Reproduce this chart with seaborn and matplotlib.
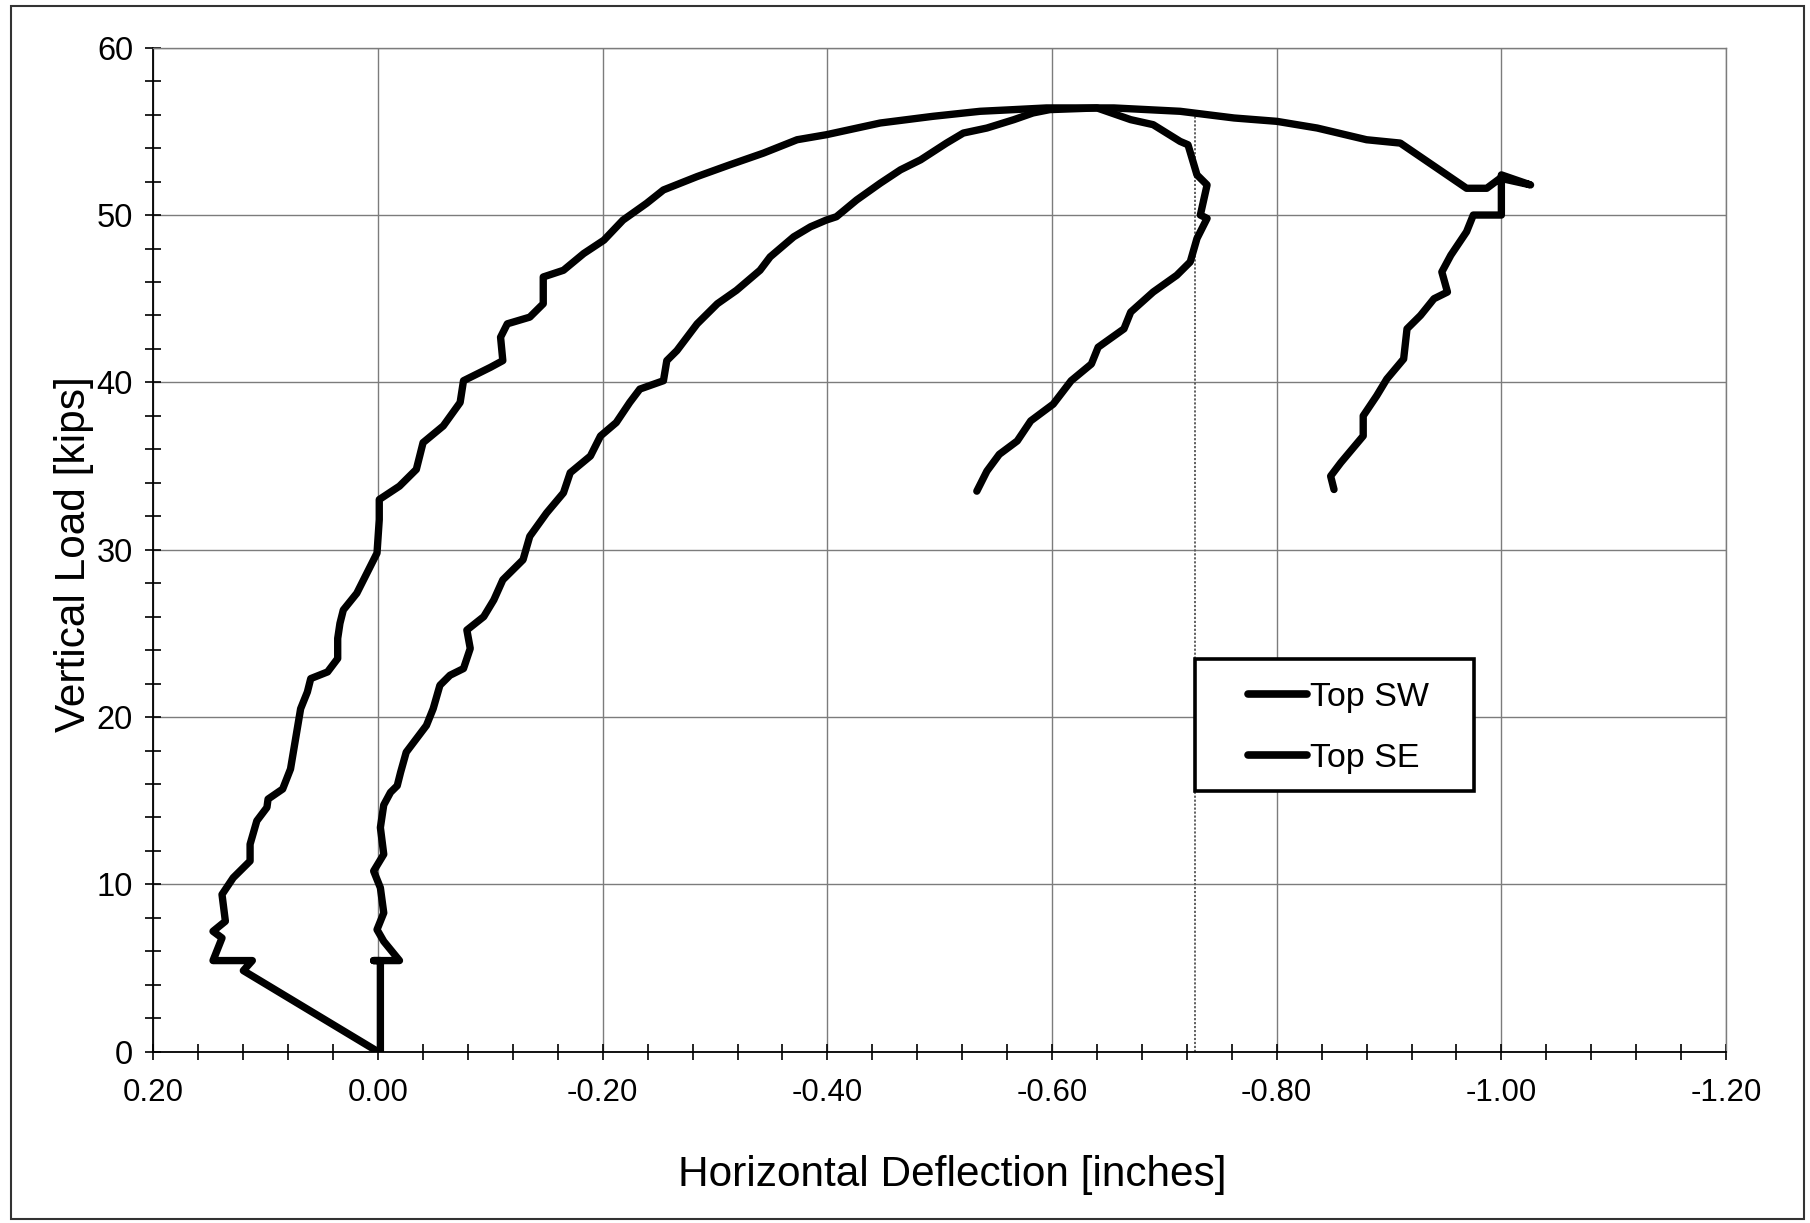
import numpy as np
import pandas as pd
import matplotlib
matplotlib.use("Agg")
import matplotlib.pyplot as plt
import seaborn as sns
from matplotlib.lines import Line2D
from matplotlib.patches import Rectangle
from matplotlib.ticker import MultipleLocator, FixedLocator, FixedFormatter

# ---------------- data ----------------
series_names = ["Top SW", "Top SE"]

sw_x = [0.000, 0.120, 0.112, 0.147, 0.139, 0.147, 0.136, 0.139, 0.129, 0.114,
        0.114, 0.108, 0.099, 0.098, 0.085, 0.078, 0.075, 0.072, 0.069, 0.063,
        0.060, 0.045, 0.036, 0.036, 0.034, 0.031, 0.019, 0.010, 0.001, -0.001,
        -0.001, -0.019, -0.034, -0.040, -0.058, -0.073, -0.076, -0.100, -0.111, -0.109,
        -0.115, -0.135, -0.147, -0.147, -0.165, -0.183, -0.201, -0.218, -0.239, -0.254,
        -0.284, -0.313, -0.343, -0.373, -0.399, -0.447, -0.494, -0.536, -0.566, -0.595,
        -0.655, -0.714, -0.762, -0.800, -0.836, -0.880, -0.910, -0.969, -0.987, -0.999,
        -1.026, -1.000, -1.000, -0.975, -0.969, -0.955, -0.947, -0.952, -0.940, -0.928,
        -0.916, -0.913, -0.898, -0.889, -0.877, -0.877, -0.857, -0.848, -0.851]
sw_y = [0.0, 4.85, 5.45, 5.45, 6.8, 7.2, 7.8, 9.4, 10.4, 11.4,
        12.4, 13.8, 14.6, 15.1, 15.7, 16.9, 18.1, 19.3, 20.5, 21.5,
        22.3, 22.7, 23.5, 24.7, 25.6, 26.4, 27.4, 28.6, 29.8, 31.8,
        33.0, 33.8, 34.8, 36.4, 37.4, 38.8, 40.1, 40.9, 41.3, 42.7,
        43.5, 43.9, 44.7, 46.3, 46.7, 47.7, 48.5, 49.7, 50.7, 51.5,
        52.3, 53.0, 53.7, 54.5, 54.8, 55.5, 55.9, 56.2, 56.3, 56.4,
        56.4, 56.2, 55.8, 55.6, 55.2, 54.5, 54.3, 51.6, 51.6, 52.2,
        51.8, 52.4, 50.0, 50.0, 49.0, 47.6, 46.6, 45.4, 45.0, 44.0,
        43.2, 41.4, 40.2, 39.2, 38.0, 36.8, 35.2, 34.4, 33.6]

se_x = [-0.002, -0.002, 0.004, -0.019, -0.005, 0.001, -0.005, -0.002, 0.004, -0.005,
        -0.002, -0.005, -0.011, -0.017, -0.020, -0.025, -0.034, -0.043, -0.049, -0.055,
        -0.064, -0.076, -0.082, -0.079, -0.094, -0.103, -0.111, -0.129, -0.135, -0.150,
        -0.165, -0.171, -0.189, -0.198, -0.212, -0.224, -0.233, -0.254, -0.257, -0.266,
        -0.284, -0.302, -0.319, -0.340, -0.349, -0.370, -0.385, -0.399, -0.408, -0.426,
        -0.447, -0.465, -0.483, -0.506, -0.521, -0.542, -0.566, -0.583, -0.598, -0.640,
        -0.670, -0.690, -0.714, -0.721, -0.729, -0.738, -0.732, -0.738, -0.729, -0.723,
        -0.711, -0.690, -0.670, -0.664, -0.641, -0.635, -0.617, -0.601, -0.581, -0.569,
        -0.553, -0.542, -0.533]
se_y = [0.0, 5.45, 5.45, 5.45, 6.6, 7.3, 8.3, 9.8, 10.8, 11.8,
        13.4, 14.75, 15.5, 15.9, 16.7, 17.9, 18.7, 19.5, 20.5, 21.9,
        22.5, 22.9, 24.1, 25.2, 26.0, 27.0, 28.2, 29.4, 30.8, 32.2,
        33.4, 34.6, 35.6, 36.8, 37.6, 38.8, 39.6, 40.1, 41.3, 41.9,
        43.5, 44.7, 45.5, 46.7, 47.5, 48.7, 49.3, 49.7, 49.9, 50.9,
        51.9, 52.7, 53.3, 54.3, 54.9, 55.2, 55.7, 56.1, 56.3, 56.4,
        55.7, 55.4, 54.4, 54.2, 52.4, 51.8, 50.0, 49.8, 48.6, 47.2,
        46.4, 45.4, 44.2, 43.2, 42.1, 41.1, 40.1, 38.7, 37.7, 36.5,
        35.7, 34.7, 33.5]

x_ticks = [0.20, 0.00, -0.20, -0.40, -0.60, -0.80, -1.00, -1.20]
x_tick_labels = ["0.20", "0.00", "-0.20", "-0.40", "-0.60", "-0.80", "-1.00", "-1.20"]
y_ticks = [0, 10, 20, 30, 40, 50, 60]
y_tick_labels = ["0", "10", "20", "30", "40", "50", "60"]

marker_line_x = [-0.727]
marker_line_y = [0.0, 56.2]

# ---------------- build table ----------------
df = pd.concat([
    pd.DataFrame({"x": sw_x, "y": sw_y, "series": series_names[0], "order": range(len(sw_x))}),
    pd.DataFrame({"x": se_x, "y": se_y, "series": series_names[1], "order": range(len(se_x))}),
], ignore_index=True)

sns.set_theme(style="white")
plt.rcParams["font.family"] = ["Liberation Sans", "DejaVu Sans"]
plt.rcParams["text.color"] = "black"
plt.rcParams["axes.labelcolor"] = "black"
plt.rcParams["xtick.color"] = "black"
plt.rcParams["ytick.color"] = "black"

fig = plt.figure(figsize=(18.10, 12.23), dpi=100)
fig.patch.set_facecolor("white")
ax = fig.add_axes([0.0848, 0.140, 0.8688, 0.821])

sns.lineplot(data=df, x="x", y="y", hue="series", estimator=None, sort=False,
             palette={series_names[0]: "black", series_names[1]: "black"},
             linewidth=5.3, legend=False, ax=ax,
             solid_capstyle="round", solid_joinstyle="round", zorder=3)

ax.vlines(marker_line_x, marker_line_y[0], marker_line_y[1], colors="#555555",
          linestyles=(0, (1.2, 1.0)), linewidth=1.3, zorder=2.5)

ax.set_xlim(x_ticks[0], x_ticks[-1])
ax.set_ylim(y_ticks[0], y_ticks[-1])
ax.xaxis.set_major_locator(FixedLocator(x_ticks))
ax.xaxis.set_major_formatter(FixedFormatter(x_tick_labels))
ax.yaxis.set_major_locator(FixedLocator(y_ticks))
ax.yaxis.set_major_formatter(FixedFormatter(y_tick_labels))
ax.xaxis.set_minor_locator(MultipleLocator(0.04))
ax.yaxis.set_minor_locator(MultipleLocator(2))

ax.grid(which="major", color="#7c7c7c", linewidth=1.0)
ax.set_axisbelow(True)

for side in ["left", "bottom"]:
    ax.spines[side].set_color("black")
    ax.spines[side].set_linewidth(1.3)
for side in ["top", "right"]:
    ax.spines[side].set_color("#7c7c7c")
    ax.spines[side].set_linewidth(1.0)

ax.tick_params(axis="both", which="both", direction="inout", color="black",
               labelcolor="black", length=11.5, width=1.2,
               left=True, bottom=True, top=False, right=False)
ax.tick_params(axis="x", which="major", labelsize=22.5, pad=13)
ax.tick_params(axis="y", which="major", labelsize=23.5, pad=9)

ax.set_xlabel("Horizontal Deflection [inches]", fontsize=30.5, color="black")
ax.set_ylabel("Vertical Load [kips]", fontsize=30.5, color="black")
ax.xaxis.set_label_coords(0.508, -0.103)
ax.yaxis.set_label_coords(-0.038, 0.496)

# legend with an opaque box
ax.add_patch(Rectangle((0.662, 0.260), 0.178, 0.131, transform=ax.transAxes,
                       facecolor="white", edgecolor="black", linewidth=2.6, zorder=4))
handles = [Line2D([], [], color="black", linewidth=5.5, solid_capstyle="round") for _ in series_names]
leg = ax.legend(handles, series_names, loc="upper left", bbox_to_anchor=(0.6855, 0.385),
                frameon=False, borderpad=0, handlelength=1.72, handletextpad=0.08,
                labelspacing=0.88, fontsize=24.5)
for t in leg.get_texts():
    t.set_color("black")
leg.set_zorder(5)

# outer page frame
fig.add_artist(Rectangle((11 / 1810, 1 - 1219 / 1223), (1804 - 11) / 1810, (1219 - 6) / 1223,
                         transform=fig.transFigure, fill=False, edgecolor="#333333", linewidth=1.5))

fig.savefig("out.png", dpi=100, facecolor="white")
